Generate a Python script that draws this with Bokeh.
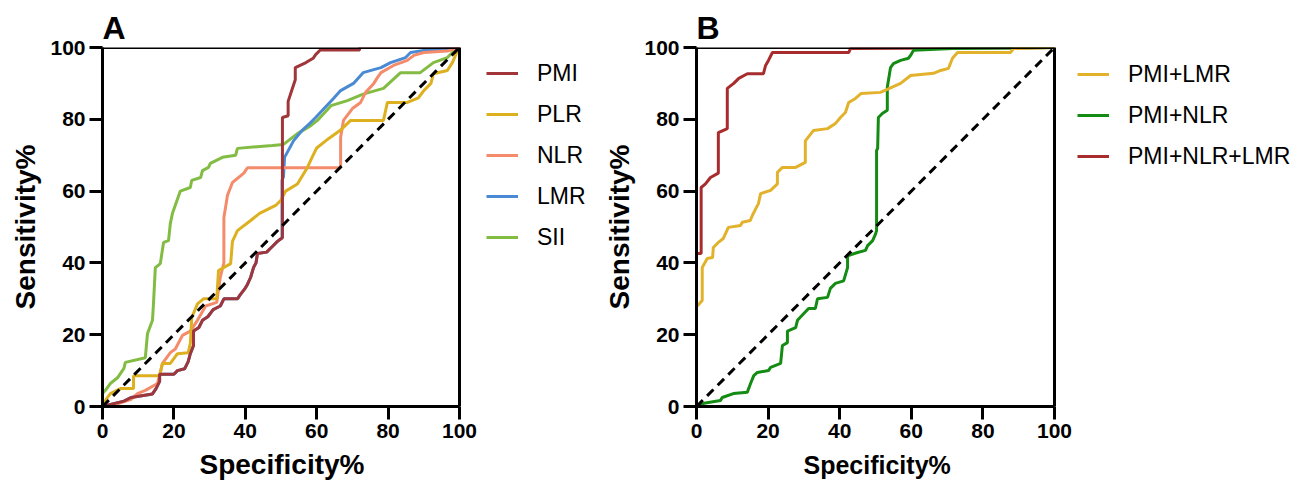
from bokeh.plotting import figure
from bokeh.layouts import row
from bokeh.models import Legend, LegendItem, Range1d, FixedTicker, Title
from bokeh.embed import file_html
from bokeh.resources import INLINE

# ---------------- Panel A data ----------------
pmi_x = [0, 2, 4, 6, 8, 11, 14, 15, 16, 16, 20, 21, 23, 24, 24.6, 25.5, 25.5, 27, 28, 29.5, 31, 33, 34, 37.8,
         38.5, 40, 40.6, 41.5, 42.3, 43, 43.4, 46, 47, 48, 49, 50.4, 50.4, 52, 52, 53, 54, 54, 57, 59, 59.7, 61,
         72, 72, 100]
pmi_y = [0, 0.5, 1, 1.5, 2.5, 3, 3.5, 5, 7, 9, 9, 10, 10.5, 12.5, 14.7, 17, 21, 22, 24, 25, 27, 28, 30, 30,
         31, 33, 34, 36, 38.7, 40, 42.6, 43, 44, 45, 46, 47, 80.5, 81, 85, 88, 91, 94.4, 95.8, 97, 98, 99.3,
         99.3, 100, 100]

plr_x = [0, 1, 2.2, 5, 8.7, 8.7, 16, 16.8, 19, 21, 24, 24.6, 25, 26.6, 28.3, 32, 32.5, 35.9, 36.4, 37.8, 41.5,
         44, 48.5, 49.9, 51.3, 54.6, 57.4, 59, 60, 63.3, 66.7, 69.5, 78.7, 79.8, 85.4, 88.5, 90, 92, 92.7, 96.6,
         98, 99.4, 100]
plr_y = [0, 2, 3.6, 5, 5, 8.6, 8.6, 12, 12, 14.7, 15, 17.5, 24.8, 28.6, 30, 30, 37.9, 39.8, 46, 49, 51.8,
         53.8, 56, 57.4, 60, 62, 66.6, 70, 72, 74.6, 77, 79.7, 79.7, 84.7, 84.7, 86, 88, 90, 92.7, 93.6,
         95.8, 99, 100]

nlr_x = [0, 5, 8, 9.8, 12, 15.4, 16.8, 19, 20.4, 22.4, 24.6, 26.6, 28.9, 32, 33, 34, 34, 35, 36.4, 39.6, 40.6,
         66.7, 66.7, 67.5, 70, 72.3, 73.7, 76, 77, 78, 81.5, 85.4, 87.2, 90, 96.6, 100]
nlr_y = [0, 1, 2, 3.6, 4.5, 6.4, 12, 15, 16, 19.8, 21, 24, 28, 29, 36, 40, 52.6, 58.8, 62.4, 65, 66.5,
         66.5, 75, 79.7, 83, 84.7, 87.5, 90, 91.6, 93, 95, 96.4, 97.8, 98.6, 99, 100]

lmr_x = [0, 2, 4, 6, 8, 11, 14, 15, 16, 16, 20, 21, 23, 24, 24.6, 25.5, 25.5, 27, 28, 29.5, 31, 33, 34, 37.8,
         38.5, 40, 40.6, 41.5, 42.3, 43, 43.4, 46, 47, 48, 49, 50.3, 50.3, 50.7, 51, 53.5, 56, 58, 59.7, 61.6,
         64.7, 66.7, 70.3, 73, 78, 80.7, 84.9, 86.3, 90, 100]
lmr_y = [0, 0.5, 1, 1.5, 2.5, 3, 3.5, 5, 7, 9, 9, 10, 10.5, 12.5, 14.7, 17, 21, 22, 24, 25, 27, 28, 30, 30,
         31, 33, 34, 36, 38.7, 40, 42.6, 43, 44, 45, 46, 47, 63, 64, 69.4, 74, 77, 78.8, 80.5, 82.5,
         85.8, 88, 90, 93, 94.4, 95.8, 97.2, 98.6, 99.2, 100]

sii_x = [0, 0, 0.8, 2.2, 4.2, 6, 6.4, 12, 12.6, 14, 14.3, 14.8, 16.2, 17.1, 18.5, 19, 19.6, 21.8, 24.6, 25,
         27.5, 28, 29.7, 30.2, 33.6, 37.3, 37.8, 47.6, 50.7, 54.6, 58, 60.2, 62, 64, 68.6, 73, 78.7, 83.5,
         89, 92.7, 96.6, 98, 100]
sii_y = [0, 3.6, 4.5, 6.4, 8, 10.6, 12.3, 13.6, 20.3, 24, 29, 38.7, 39.8, 45.7, 46.2, 51, 53.8, 60, 61, 63,
         63.8, 65.7, 66.6, 67.7, 69.4, 70, 71.9, 72.7, 73, 76, 78, 79.7, 81.6, 83.8, 85.2, 87, 88.6, 93,
         93, 95.8, 97.2, 98.6, 100]

# ---------------- Panel B data ----------------
pl_x = [0, 0, 0.3, 1.6, 1.6, 3, 4.5, 4.7, 6.1, 7.5, 8.9, 12.3, 12.8, 15, 15.6, 16.5, 17.3, 17.9, 20.7, 22.6,
        22.6, 24, 27.7, 30.4, 30.4, 32.7, 36.6, 38.8, 40.2, 41.6, 42.5, 44.4, 46, 51.4, 57, 59.8, 66.2, 68.2,
        70.4, 71.5, 72.9, 87.7, 88.5, 100]
pl_y = [0, 28.1, 28.1, 29.5, 38.7, 41.2, 41.5, 44.3, 45.7, 46.8, 49.9, 50.4, 51.3, 51.8, 53.2, 55, 56.5,
        59.3, 60.2, 62, 65.2, 66.6, 66.6, 68, 74, 76.9, 77.4, 78.8, 80.5, 81.9, 84.7, 85.8, 87.2, 87.5, 90,
        92.2, 92.8, 93.6, 94.2, 97, 98.6, 98.6, 99.7, 100]

pn_x = [0, 0.6, 2.5, 6.7, 7.2, 10.3, 14.2, 15.1, 16, 17, 20.1, 20.7, 23.5, 24, 25.4, 25.4, 27.7, 28.2, 31.3,
        33.2, 33.8, 36.6, 37.4, 38.8, 41.1, 42.2, 42.2, 45, 47.2, 47.8, 49.2, 50, 50.3, 50.3, 50.6, 50.8, 51.9,
        53.3, 53.3, 54.2, 55, 57, 59.2, 59.8, 60.6, 71.5, 100]
pn_y = [0, 0.3, 1, 1.7, 2.5, 3.6, 4, 6.4, 8.6, 9.5, 10, 10.9, 12, 17, 17.8, 21, 22, 24, 27.3, 27.3, 30, 30.4,
        32.9, 34.3, 35, 38.7, 42, 42.9, 43.5, 44.8, 46.2, 48, 49, 71.3, 71.9, 80.5, 81.6, 82.5, 88.9, 94.4,
        95.5, 96.4, 97, 97.8, 99.2, 99.7, 100]

pnl_x = [0, 0, 1.3, 1.3, 2.5, 3.9, 6.1, 6.1, 8.6, 8.6, 10.4, 11.8, 14.2, 18.7, 19.3, 20.1, 21.2, 42.5, 43, 100]
pnl_y = [0, 42.6, 42.6, 61, 62, 63.8, 65, 76.3, 77.4, 88.6, 90, 91.4, 92.7, 92.7, 95, 96.4, 98.6, 98.6, 99.7,
         100]

diag = [0, 100]
ticks = [0, 20, 40, 60, 80, 100]

FONT = "Liberation Sans"


def make_panel(letter, width, left, plot_px, xlabel_size, xlabel_offset, xlabel_standoff, series):
    frame_w = width - left
    x_end = 100.0 * frame_w / plot_px  # frame extends right to hold the legend
    p = figure(width=width, height=489, x_range=Range1d(0, x_end), y_range=Range1d(0, 100),
               output_backend="svg", toolbar_location=None, title=letter,
               min_border_left=left, min_border_right=0, min_border_top=47, min_border_bottom=83)
    p.title.text_font = FONT
    p.title.text_font_size = "32px"
    p.title.text_font_style = "bold"
    p.title.text_color = "black"
    p.title.align = "left"
    p.title.standoff = 4
    p.xgrid.visible = False
    p.ygrid.visible = False
    p.outline_line_color = None
    for ax in (p.xaxis[0], p.yaxis[0]):
        ax.ticker = FixedTicker(ticks=ticks)
        ax.bounds = (0, 100)
        ax.axis_line_width = 3
        ax.major_tick_line_width = 3
        ax.major_tick_out = 13
        ax.major_tick_in = 0
        ax.minor_tick_line_color = None
        ax.major_label_text_font = FONT
        ax.major_label_text_font_style = "bold"
        ax.major_label_text_font_size = "21px"
        ax.major_label_text_color = "black"
        ax.major_label_standoff = 4
        ax.axis_label_text_font = FONT
        ax.axis_label_text_font_style = "bold"
        ax.axis_label_text_color = "black"
    p.yaxis.axis_label = "Sensitivity%"
    p.yaxis.axis_label_text_font_size = "28px"
    p.yaxis.axis_label_standoff = 6
    # x-axis title, placed under the 0-100 plotting area
    p.add_layout(Title(text="Specificity%", align="left", offset=xlabel_offset, standoff=xlabel_standoff,
                       text_font=FONT, text_font_style="bold", text_font_size=xlabel_size,
                       text_color="black"), "below")

    rends = {}
    for name, xs, ys, color in series:
        rends[name] = p.line(xs, ys, line_color=color, line_width=3)
    p.line(diag, diag, line_color="black", line_width=3, line_dash="9 6")
    # box around the plotting area (top and right edges)
    p.quad(left=[0], right=[100], bottom=[0], top=[100], fill_alpha=0, line_color="black", line_width=3)
    return p, rends


def add_legend(p, rends, names, loc):
    legend = Legend(items=[LegendItem(label=n, renderers=[rends[n]]) for n in names],
                    location=loc, padding=0, margin=0, spacing=11,
                    glyph_width=32, glyph_height=30, label_height=30, label_standoff=19,
                    label_text_font=FONT, label_text_font_size="23px", label_text_color="black",
                    border_line_alpha=0, background_fill_alpha=0)
    p.add_layout(legend)


seriesA = [("SII", sii_x, sii_y, "#82BC42"),
           ("LMR", lmr_x, lmr_y, "#4A8AD4"),
           ("NLR", nlr_x, nlr_y, "#F48C6C"),
           ("PLR", plr_x, plr_y, "#DDB020"),
           ("PMI", pmi_x, pmi_y, "#A0353A")]
pA, rA = make_panel("A", 600, 102, 357, "28px", 97, 12, seriesA)
add_legend(pA, rA, ["PMI", "PLR", "NLR", "LMR", "SII"], (384, 154))

seriesB = [("PMI+NLR+LMR", pnl_x, pnl_y, "#A82C2E"),
           ("PMI+NLR", pn_x, pn_y, "#148C14"),
           ("PMI+LMR", pl_x, pl_y, "#E2B22C")]
pB, rB = make_panel("B", 698, 96, 358, "25px", 107, 17, seriesB)
add_legend(pB, rB, ["PMI+LMR", "PMI+NLR", "PMI+NLR+LMR"], (381, 235))

layout = row(pA, pB)
open("out.html", "w").write(file_html(layout, INLINE))
